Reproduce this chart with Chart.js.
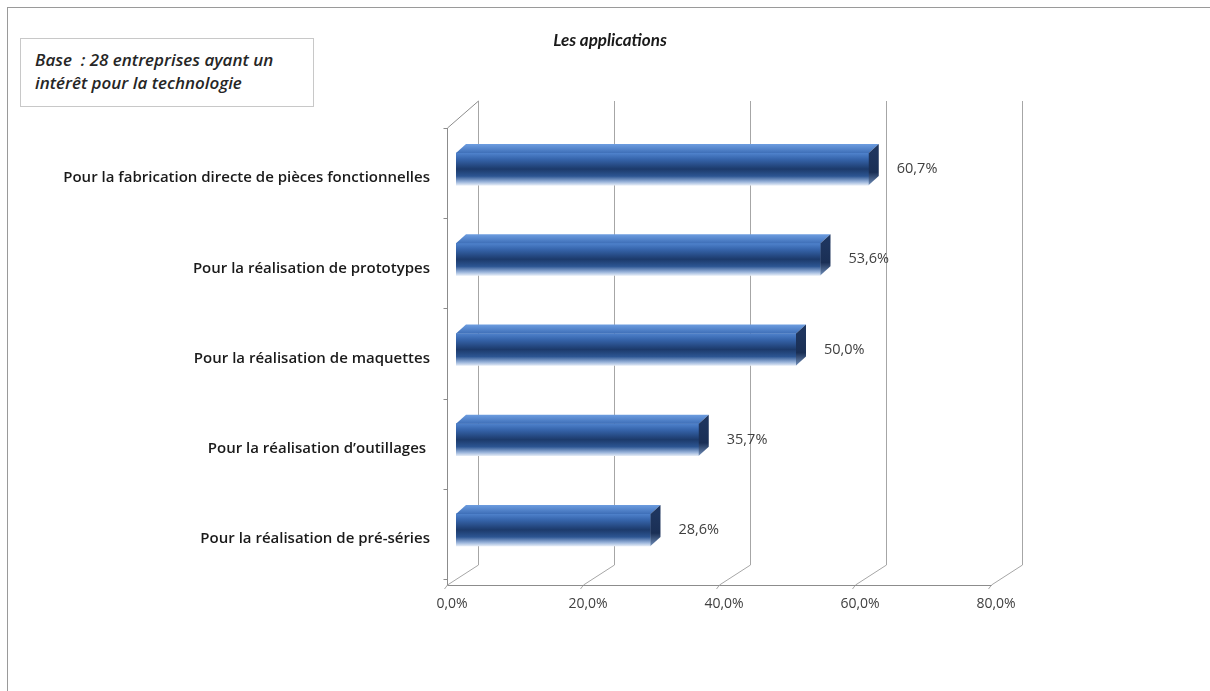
<!DOCTYPE html>
<html>
<head>
<meta charset="utf-8">
<script src="https://cdn.jsdelivr.net/npm/chart.js@4.4.1/dist/chart.umd.min.js"></script>
<style>
html, body { margin: 0; padding: 0; background: #fff; }
#wrap { position: relative; width: 1210px; height: 691px; overflow: hidden; }
#frame { position: absolute; left: 7px; top: 7px; width: 1220px; height: 700px;
  border-left: 1px solid #9a9a9a; border-top: 1px solid #9a9a9a; }
#base { position: absolute; left: 20px; top: 38px; width: 294px; height: 69px;
  box-sizing: border-box; border: 1px solid #c8c8c8; background: #fff;
  font: italic 600 17px "Open Sans", sans-serif; color: #262626;
  padding: 9px 0 0 14px; line-height: 23px; white-space: nowrap; }
#title { position: absolute; left: 410px; width: 400px; top: 29px; text-align: center;
  font: italic bold 17px Lato, sans-serif; color: #1a1a1a; }
canvas { position: absolute; left: 0; top: 0; }
</style>
</head>
<body>
<div id="wrap">
  <div id="frame"></div>
  <canvas id="chart" width="1210" height="691"></canvas>
  <div id="base">Base&nbsp; : 28 entreprises ayant un<br>intérêt pour la technologie</div>
  <div id="title">Les applications</div>
</div>
<script>
const categories = [
    'Pour la fabrication directe de pièces fonctionnelles',
    'Pour la réalisation de prototypes',
    'Pour la réalisation de maquettes',
    'Pour la réalisation d\u2019outillages ',
    'Pour la réalisation de pré-séries'
];
const values = [60.7, 53.6, 50.0, 35.7, 28.6];
const xTicks = [0, 20, 40, 60, 80];

function fmt(v) {
    return v.toFixed(1).replace('.', ',') + '%';
}

// offsets of the front and back planes from the bars plane
const FRONT = { dx: -9, dy: 10 };
const BACK = { dx: 22, dy: -10 };
const BAR_DEPTH = { dx: 10, dy: -9 };

const wallsPlugin = {
    id: 'walls',
    beforeDatasetsDraw(chart) {
        const ctx = chart.ctx;
        const area = chart.chartArea;
        const xs = chart.scales.x;
        ctx.save();
        ctx.lineWidth = 1;
        ctx.strokeStyle = '#a6a6a6';
        const backTop = area.top - 23;
        const backBottom = area.bottom + BACK.dy;
        const frontBottom = area.bottom + FRONT.dy;
        xTicks.forEach(function(t) {
            const px = Math.round(xs.getPixelForValue(t)) + 0.5;
            ctx.beginPath();
            ctx.moveTo(px + BACK.dx, backTop);
            ctx.lineTo(px + BACK.dx, backBottom);
            ctx.lineTo(px + FRONT.dx, frontBottom);
            ctx.stroke();
            ctx.beginPath();
            ctx.moveTo(px + FRONT.dx, frontBottom);
            ctx.lineTo(px + FRONT.dx - 3, frontBottom + 4);
            ctx.stroke();
        });
        // front floor edge
        const x0 = Math.round(xs.getPixelForValue(0)) + FRONT.dx + 0.5;
        const x1 = Math.round(xs.getPixelForValue(80)) + FRONT.dx + 0.5;
        ctx.strokeStyle = '#8c8c8c';
        ctx.beginPath();
        ctx.moveTo(x0, frontBottom + 0.5);
        ctx.lineTo(x1, frontBottom + 0.5);
        ctx.stroke();
        // left wall
        const frontTop = area.top + 4;
        ctx.beginPath();
        ctx.moveTo(x0 + BACK.dx - FRONT.dx, backTop);
        ctx.lineTo(x0, frontTop);
        ctx.lineTo(x0, frontBottom);
        ctx.stroke();
        const band = (area.bottom - area.top) / categories.length;
        for (let i = 0; i <= categories.length; i++) {
            const y = Math.round(area.top + i * band + FRONT.dy * 0.4) + 0.5;
            ctx.beginPath();
            ctx.moveTo(x0 - 4, y);
            ctx.lineTo(x0, y);
            ctx.stroke();
        }
        ctx.restore();
    },
    afterDatasetsDraw(chart) {
        const ctx = chart.ctx;
        const meta = chart.getDatasetMeta(0);
        ctx.save();
        meta.data.forEach(function(bar, i) {
            const p = bar.getProps(['x', 'y', 'base', 'height'], true);
            const top = p.y - p.height / 2;
            const bottom = p.y + p.height / 2;
            // top face
            let g = ctx.createLinearGradient(0, top + BAR_DEPTH.dy, 0, top);
            g.addColorStop(0, '#6d9de0');
            g.addColorStop(1, '#3e6fb8');
            ctx.fillStyle = g;
            ctx.beginPath();
            ctx.moveTo(p.base, top);
            ctx.lineTo(p.base + BAR_DEPTH.dx, top + BAR_DEPTH.dy);
            ctx.lineTo(p.x + BAR_DEPTH.dx, top + BAR_DEPTH.dy);
            ctx.lineTo(p.x, top);
            ctx.closePath();
            ctx.fill();
            // side face
            g = ctx.createLinearGradient(0, top, 0, bottom);
            g.addColorStop(0, '#1e355e');
            g.addColorStop(0.6, '#1a2f55');
            g.addColorStop(1, '#6f8db8');
            ctx.fillStyle = g;
            ctx.beginPath();
            ctx.moveTo(p.x, top);
            ctx.lineTo(p.x + BAR_DEPTH.dx, top + BAR_DEPTH.dy);
            ctx.lineTo(p.x + BAR_DEPTH.dx, bottom + BAR_DEPTH.dy);
            ctx.lineTo(p.x, bottom);
            ctx.closePath();
            ctx.fill();
            // value label
            ctx.fillStyle = '#404040';
            ctx.font = '14.5px "Open Sans", sans-serif';
            ctx.textAlign = 'left';
            ctx.textBaseline = 'middle';
            ctx.fillText(fmt(values[i]), p.x + 28, p.y);
        });
        ctx.restore();
    }
};

const ctx = document.getElementById('chart').getContext('2d');
const chart = new Chart(ctx, {
    type: 'bar',
    data: {
        labels: categories,
        datasets: [{
            data: values,
            barThickness: 32,
            borderWidth: 0,
            backgroundColor: function(c) {
                const ch = c.chart;
                if (!ch.chartArea || !ch.scales.y) return '#2a4f8a';
                const y = ch.scales.y.getPixelForValue(c.dataIndex);
                const g = ch.ctx.createLinearGradient(0, y - 16, 0, y + 16);
                g.addColorStop(0, '#4f82cc');
                g.addColorStop(0.18, '#3766ad');
                g.addColorStop(0.5, '#1c3a6b');
                g.addColorStop(0.72, '#2c5592');
                g.addColorStop(0.9, '#9ab4da');
                g.addColorStop(1, '#dfe8f5');
                return g;
            }
        }]
    },
    options: {
        indexAxis: 'y',
        responsive: false,
        animation: false,
        layout: { padding: { left: 0, right: 210, top: 124, bottom: 66 } },
        plugins: {
            legend: { display: false },
            tooltip: { enabled: false },
            title: { display: false }
        },
        scales: {
            x: {
                min: 0,
                max: 80,
                afterBuildTicks: function(s) {
                    s.ticks = xTicks.map(function(v) { return { value: v }; });
                },
                afterFit: function(s) { s.height = 50; },
                grid: { display: false, drawTicks: false },
                border: { display: false },
                ticks: {
                    padding: 21,
                    labelOffset: -4,
                    color: '#404040',
                    font: { family: 'Open Sans', size: 14 },
                    callback: function(v) { return fmt(v); }
                }
            },
            y: {
                afterFit: function(s) { s.width = 456; },
                grid: { display: false, drawTicks: false },
                border: { display: false },
                ticks: {
                    padding: 26,
                    labelOffset: 9,
                    color: '#1a1a1a',
                    font: { family: 'Open Sans', size: 15, weight: '600' }
                }
            }
        }
    },
    plugins: [wallsPlugin]
});
</script>
</body>
</html>
